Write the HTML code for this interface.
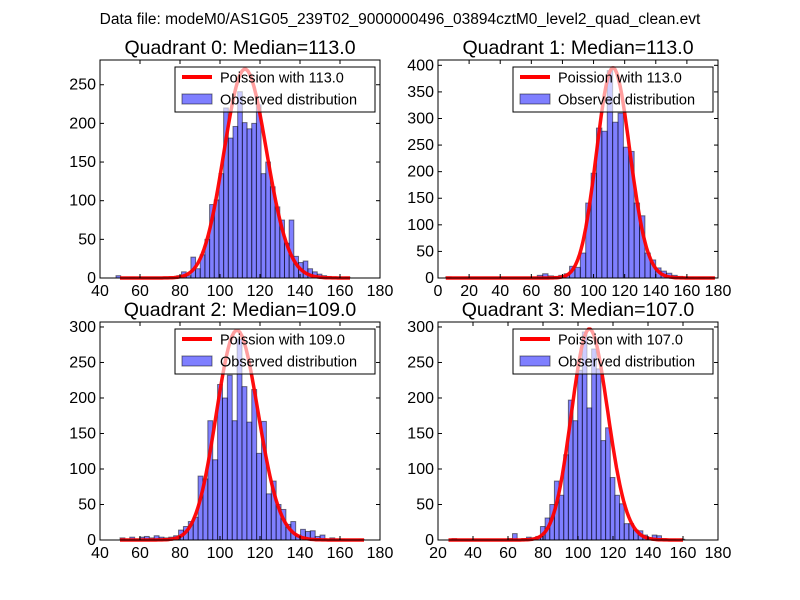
<!DOCTYPE html>
<html><head><meta charset="utf-8"><style>
body{margin:0;background:#fff;}
svg{display:block;font-family:"Liberation Sans","DejaVu Sans",sans-serif;}
</style></head><body>
<svg id="fig" width="800" height="600" viewBox="0 0 800 600">
<rect width="800" height="600" fill="#fff"/>
<text x="400" y="24" text-anchor="middle" font-size="15.5">Data file: modeM0/AS1G05_239T02_9000000496_03894cztM0_level2_quad_clean.evt</text>
</svg>
<script>
// ---- data ----
const q0Counts=[3,0,0,1,0,0,0,0,0,0,0,0,1,3,8,3,27,12,30,50,95,101,135,220,181,196,241,201,193,200,224,135,150,118,92,75,45,75,28,20,22,12,8,5,3,2,1,1,0,1];
const q1Counts=[2,0,0,0,0,0,0,0,0,0,0,0,0,0,0,0,0,5,8,4,3,5,8,22,20,47,141,197,282,276,390,293,310,246,238,141,117,47,34,19,13,9,5,3,2,1,0,1,0,1];
const q2Counts=[3,0,4,0,4,5,3,6,4,3,4,6,14,19,26,32,90,86,168,113,219,200,232,168,283,216,166,212,122,167,65,83,50,43,22,26,7,15,12,13,5,7,0,3,0,1,0,0,0,1];
const q3Counts=[2,0,0,0,0,0,0,0,0,0,0,0,2,9,0,2,4,3,5,19,31,50,83,63,120,197,168,239,293,186,269,241,140,158,88,63,51,23,23,14,13,7,3,7,6,2,1,1,0,1];
const binStarts=[48,5,50,28];
const binWidths=[2.34,3.46,2.44,2.66];
const lambdas=[113.0,113.0,109.0,107.0];
const curvePeaks=[270,395,295,297];
const curveRanges=[[50,165],[5,178],[50,172],[26,160]];
const xTicks=[[40,60,80,100,120,140,160,180],[0,20,40,60,80,100,120,140,160,180],[40,60,80,100,120,140,160,180],[20,40,60,80,100,120,140,160,180]];
const yTicks=[[0,50,100,150,200,250],[0,50,100,150,200,250,300,350,400],[0,50,100,150,200,250,300],[0,50,100,150,200,250,300]];
const xDomains=[[40,180],[0,180],[40,180],[20,180]];
const yDomains=[[0,282],[0,410],[0,307],[0,307]];
const titles=["Quadrant 0: Median=113.0","Quadrant 1: Median=113.0","Quadrant 2: Median=109.0","Quadrant 3: Median=107.0"];
const counts=[q0Counts,q1Counts,q2Counts,q3Counts];
// ---- drawing ----
const NS="http://www.w3.org/2000/svg";
const svg=document.getElementById('fig');
const boxes=[[100,60,280,218],[438,60,280,218],[100,322,280,218],[438,322,280,218]];
function mk(tag,attrs,parent){const e=document.createElementNS(NS,tag);for(const k in attrs)e.setAttribute(k,attrs[k]);parent.appendChild(e);return e;}
function logPois(k,l){let lg=0;for(let i=2;i<=k;i++)lg+=Math.log(i);return k*Math.log(l)-l-lg;}
for(let p=0;p<4;p++){
  const [bx,by,bw,bh]=boxes[p];
  const g=mk('g',{},svg);
  
  
  const xs=v=>bx+(v-xDomains[p][0])/(xDomains[p][1]-xDomains[p][0])*bw;
  const ys=v=>by+bh-(v-yDomains[p][0])/(yDomains[p][1]-yDomains[p][0])*bh;
  counts[p].forEach((c,i)=>{
    if(c<=0)return;
    const x0=xs(binStarts[p]+i*binWidths[p]),x1=xs(binStarts[p]+(i+1)*binWidths[p]);
    const r=mk('rect',{x:x0,y:ys(c),width:x1-x0,height:ys(0)-ys(c),fill:'rgba(0,0,255,0.5)',stroke:'rgba(0,0,0,0.5)','stroke-width':1},g);
    
    
  });
  const lam=lambdas[p],peakLog=logPois(Math.round(lam),lam);
  let d='';
  for(let k=curveRanges[p][0];k<=curveRanges[p][1];k++){
    const v=curvePeaks[p]*Math.exp(logPois(k,lam)-peakLog);
    d+=(d?'L':'M')+xs(k).toFixed(1)+','+ys(v).toFixed(1);
  }
  const cv=mk('path',{d:d,fill:'none',stroke:'rgba(255,0,0,0.95)','stroke-width':3.5,'stroke-linejoin':'round'},g);
  
  
  const fr=mk('rect',{x:bx,y:by,width:bw,height:bh,fill:'none',stroke:'#000','stroke-width':1},g);
  
  
  xTicks[p].forEach(t=>{
    const x=xs(t);
    mk('line',{x1:x,y1:by+bh,x2:x,y2:by+bh-4,stroke:'#000'},g);
    mk('line',{x1:x,y1:by,x2:x,y2:by+4,stroke:'#000'},g);
    const tx=mk('text',{x:x,y:by+bh+18,'text-anchor':'middle','font-size':16},g);
    tx.textContent=t;
    
    
  });
  yTicks[p].forEach(t=>{
    const y=ys(t);
    mk('line',{x1:bx,y1:y,x2:bx+4,y2:y,stroke:'#000'},g);
    mk('line',{x1:bx+bw,y1:y,x2:bx+bw-4,y2:y,stroke:'#000'},g);
    const ty=mk('text',{x:bx-4,y:y+5,'text-anchor':'end','font-size':16},g);
    ty.textContent=t;
    
    
  });
  const tt=mk('text',{x:bx+bw/2,y:by-6,'text-anchor':'middle','font-size':19.5},g);
  tt.textContent=titles[p];
  
  
  const lg=mk('g',{},g);
  
  
  const lx=bx+75,ly=by+7;
  mk('rect',{x:lx,y:ly,width:200,height:45,fill:'rgba(255,255,255,0.6)',stroke:'#000','stroke-width':1},lg);
  mk('line',{x1:lx+7,y1:ly+10,x2:lx+37,y2:ly+10,stroke:'red','stroke-width':4},lg);
  const t1=mk('text',{x:lx+45,y:ly+15.5,'font-size':14.5},lg);
  t1.textContent='Poission with '+lambdas[p].toFixed(1);
  
  
  mk('rect',{x:lx+7,y:ly+27,width:30,height:10,fill:'rgba(0,0,255,0.5)',stroke:'rgba(0,0,0,0.5)'},lg);
  const t2=mk('text',{x:lx+45,y:ly+37.5,'font-size':14.5},lg);
  t2.textContent='Observed distribution';
  
  
}
</script>
</body></html>
